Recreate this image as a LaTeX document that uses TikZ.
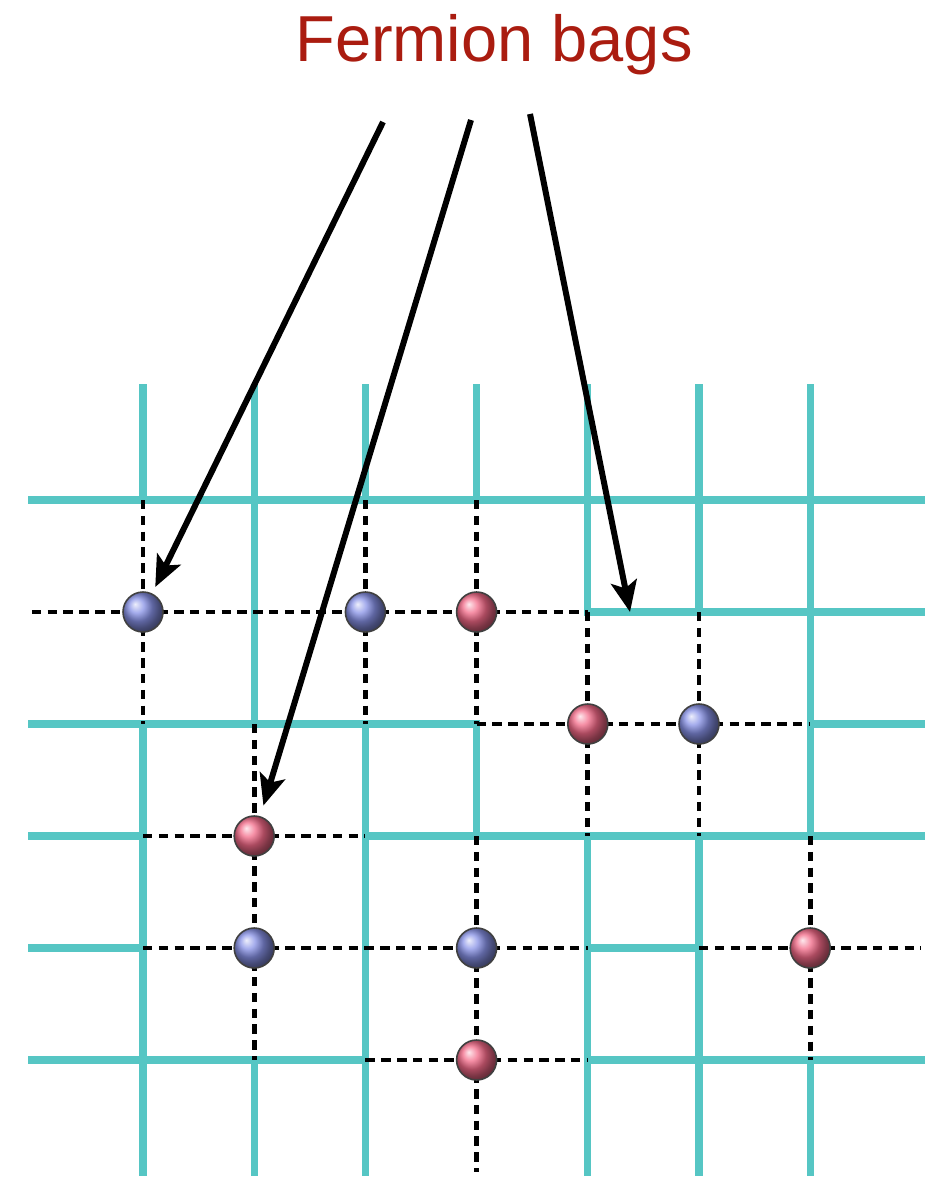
\documentclass[tikz,border=0pt]{standalone}
\usepackage{fontspec}
\setmainfont{Liberation Sans}
\usetikzlibrary{arrows.meta}
\definecolor{lattice}{RGB}{86,198,196}
\definecolor{bagtext}{RGB}{170,28,16}
\definecolor{bluebag}{RGB}{135,145,230}
\definecolor{redbag}{RGB}{242,105,135}
\begin{document}
\begin{tikzpicture}[x=0.02cm,y=-0.02cm,
  link/.style={color=lattice,line width=4pt,line cap=rect},
  bond/.style={line width=2.7pt,dash pattern=on 5.4pt off 3.6pt},
  site/.style={circle,inner sep=0pt,minimum size=0.8cm,draw=black!75,line width=0.9pt},
  pointer/.style={line width=3.4pt,-{Stealth[length=0.62cm,width=0.52cm,inset=0.14cm]}}]
  \useasboundingbox (0,0) rectangle (949,1189);
  \node[text=bagtext,font=\fontsize{37}{44}\selectfont,anchor=base] (title) at (494,62) {Fermion bags};
  \begin{scope}[shift={(143,500)},xscale=111.2,yscale=112]
    % lattice links that are still there
    \foreach \j/\a/\b in {0/-1/7,1/4/7,2/-1/3,2/6/7,3/-1/0,3/2/7,4/-1/0,4/4/5,5/-1/2,5/4/7}
      \draw[link] (\a,\j) -- (\b,\j);
    \foreach \i/\a/\b in {0/-1/0,0/2/6,1/-1/2,1/5/6,2/-1/0,2/2/6,3/-1/0,3/2/3,4/-1/1,4/3/6,5/-1/1,5/3/6,6/-1/3,6/5/6}
      \draw[link] (\i,\a) -- (\i,\b);
    % links inside the bags
    \foreach \j/\a/\b in {1/-1/4,2/3/6,3/0/2,4/0/4,4/5/7,5/2/4}
      \draw[bond] (\a,\j) -- (\b,\j);
    \foreach \i/\a/\b in {0/0/2,1/2/5,2/0/2,3/0/2,3/3/6,4/1/3,5/1/3,6/3/5}
      \draw[bond] (\i,\a) -- (\i,\b);
    % sites
    \foreach \i/\j in {0/1,2/1,5/2,1/4,3/4}
      \node[site,ball color=bluebag] (b\i\j) at (\i,\j) {};
    \foreach \i/\j in {3/1,4/2,1/3,6/4,3/5}
      \node[site,ball color=redbag] (r\i\j) at (\i,\j) {};
  \end{scope}
  \coordinate (tail1) at (383,122);
  \coordinate (tail2) at (471,120);
  \coordinate (tail3) at (530,114);
  \coordinate (edge) at (630,612);
  \draw[pointer,shorten >=0.14cm] (tail1) -- (b01);
  \draw[pointer,shorten >=0.22cm] (tail2) -- (r13);
  \draw[pointer] (tail3) -- (edge);
\end{tikzpicture}
\end{document}
